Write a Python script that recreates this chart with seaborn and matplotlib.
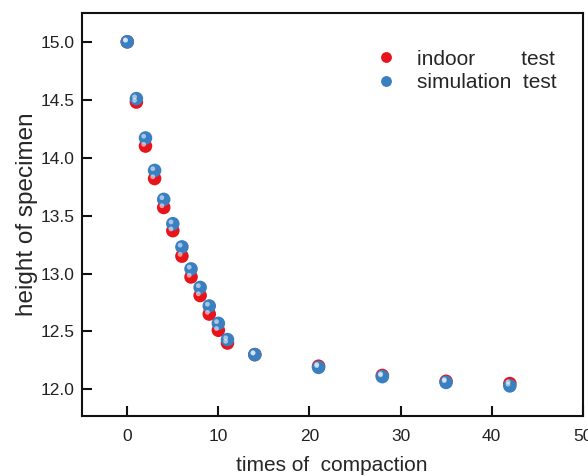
import matplotlib
matplotlib.use("Agg")
import pandas as pd
import seaborn as sns
import matplotlib.pyplot as plt

times = [0, 1, 2, 3, 4, 5, 6, 7, 8, 9, 10, 11, 14, 21, 28, 35, 42]
indoor = [15.00, 14.48, 14.10, 13.82, 13.57, 13.37, 13.15, 12.97, 12.81, 12.65,
          12.51, 12.40, 12.30, 12.20, 12.12, 12.07, 12.05]
simulation = [15.00, 14.51, 14.17, 13.89, 13.64, 13.43, 13.23, 13.04, 12.88, 12.72,
              12.57, 12.43, 12.30, 12.19, 12.11, 12.06, 12.03]
series = ['indoor        test', 'simulation  test']

df = pd.DataFrame({
    'x': times + times,
    'y': indoor + simulation,
    'series': [series[0]] * len(times) + [series[1]] * len(times),
})

sns.set_style("ticks")
plt.rcParams['font.family'] = ['Liberation Sans', 'DejaVu Sans']

fig, ax = plt.subplots(figsize=(5.88, 4.76), dpi=100)
colors = {series[0]: '#e8141c', series[1]: '#3a7fc0'}
sns.scatterplot(data=df, x='x', y='y', hue='series', palette=colors, s=95,
                edgecolor='none', ax=ax, zorder=3)
# small soft glint to fake the shaded spheres
for name in series:
    sub = df[df['series'] == name]
    ax.scatter(sub['x'] - 0.2, sub['y'] + 0.015, s=12, color='white', alpha=0.55,
               edgecolor='none', zorder=4)

ax.set_xlim(-5, 50)
ax.set_ylim(11.77, 15.25)
ax.set_xticks([0, 10, 20, 30, 40, 50])
ax.set_yticks([12.0, 12.5, 13.0, 13.5, 14.0, 14.5, 15.0])
ax.tick_params(direction='in', length=7, width=1.5, labelsize=12.5,
               color='#111111', labelcolor='#222222', bottom=True, left=True)
ax.tick_params(axis='x', pad=9)
ax.tick_params(axis='y', pad=5)
for sp in ax.spines.values():
    sp.set_linewidth(1.5)
    sp.set_color('#111111')
ax.set_xlabel('times of  compaction', fontsize=15, labelpad=9)
ax.set_ylabel('height of specimen', fontsize=17.5, labelpad=2)

leg = ax.legend(frameon=False, fontsize=15, loc='upper right',
                bbox_to_anchor=(0.985, 0.955), handletextpad=0.5, labelspacing=0.2,
                markerscale=0.8)

plt.subplots_adjust(left=0.139, right=0.991, top=0.973, bottom=0.126)
plt.savefig("out.png", dpi=100)
